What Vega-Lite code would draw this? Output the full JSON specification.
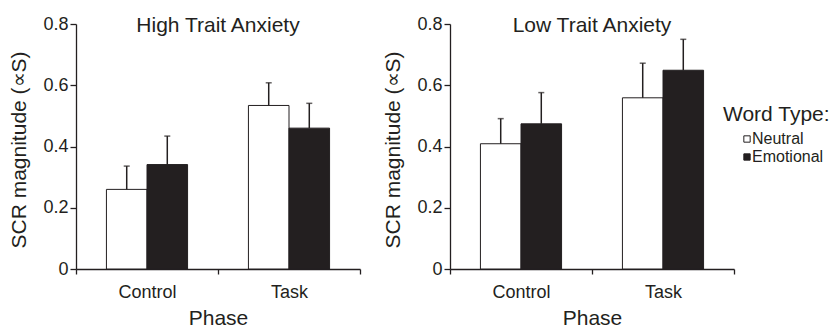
{
  "$schema": "https://vega.github.io/schema/vega-lite/v6.json",
  "padding": {"left": 8, "top": 15, "right": 0, "bottom": 0},
  "spacing": 21,
  "datasets": {
    "scr": [
      {"anxiety": "High Trait Anxiety", "phase": "Control", "word": "Neutral", "value": 0.26, "upper": 0.336},
      {"anxiety": "High Trait Anxiety", "phase": "Control", "word": "Emotional", "value": 0.341, "upper": 0.434},
      {"anxiety": "High Trait Anxiety", "phase": "Task", "word": "Neutral", "value": 0.534, "upper": 0.608},
      {"anxiety": "High Trait Anxiety", "phase": "Task", "word": "Emotional", "value": 0.46, "upper": 0.541},
      {"anxiety": "Low Trait Anxiety", "phase": "Control", "word": "Neutral", "value": 0.409, "upper": 0.491},
      {"anxiety": "Low Trait Anxiety", "phase": "Control", "word": "Emotional", "value": 0.474, "upper": 0.576},
      {"anxiety": "Low Trait Anxiety", "phase": "Task", "word": "Neutral", "value": 0.559, "upper": 0.672},
      {"anxiety": "Low Trait Anxiety", "phase": "Task", "word": "Emotional", "value": 0.649, "upper": 0.75}
    ]
  },
  "hconcat": [
    {
      "data": {"name": "scr"},
      "transform": [{"filter": "datum.anxiety === 'High Trait Anxiety'"}],
      "title": {"text": "High Trait Anxiety", "offset": -21},
      "width": 284,
      "height": 245,
      "encoding": {
        "x": {"field": "phase", "type": "nominal", "sort": ["Control", "Task"], "title": "Phase", "scale": {"paddingInner": 0, "paddingOuter": 0}},
        "xOffset": {"field": "word", "type": "nominal", "sort": ["Neutral", "Emotional"], "scale": {"paddingInner": 0, "paddingOuter": 0.75}}
      },
      "layer": [
        {
          "mark": {"type": "bar", "stroke": "#231f20", "strokeWidth": 1},
          "encoding": {
            "y": {"field": "value", "type": "quantitative", "title": "SCR magnitude (∝S)", "scale": {"domain": [0, 0.8]}, "axis": {"values": [0, 0.2, 0.4, 0.6, 0.8], "format": ".1~f"}},
            "fill": {"field": "word", "type": "nominal", "sort": ["Neutral", "Emotional"], "scale": {"domain": ["Neutral", "Emotional"], "range": ["#ffffff", "#231f20"]}, "title": "Word Type:"}
          }
        },
        {
          "mark": {"type": "rule", "color": "#231f20", "strokeWidth": 1.5},
          "encoding": {"y": {"field": "value", "type": "quantitative"}, "y2": {"field": "upper"}}
        },
        {
          "mark": {"type": "tick", "color": "#231f20", "thickness": 1.5, "size": 6},
          "encoding": {"y": {"field": "upper", "type": "quantitative"}}
        }
      ]
    },
    {
      "data": {"name": "scr"},
      "transform": [{"filter": "datum.anxiety === 'Low Trait Anxiety'"}],
      "title": {"text": "Low Trait Anxiety", "offset": -21},
      "width": 284,
      "height": 245,
      "encoding": {
        "x": {"field": "phase", "type": "nominal", "sort": ["Control", "Task"], "title": "Phase", "scale": {"paddingInner": 0, "paddingOuter": 0}},
        "xOffset": {"field": "word", "type": "nominal", "sort": ["Neutral", "Emotional"], "scale": {"paddingInner": 0, "paddingOuter": 0.75}}
      },
      "layer": [
        {
          "mark": {"type": "bar", "stroke": "#231f20", "strokeWidth": 1},
          "encoding": {
            "y": {"field": "value", "type": "quantitative", "title": "SCR magnitude (∝S)", "scale": {"domain": [0, 0.8]}, "axis": {"values": [0, 0.2, 0.4, 0.6, 0.8], "format": ".1~f"}},
            "fill": {"field": "word", "type": "nominal", "sort": ["Neutral", "Emotional"], "scale": {"domain": ["Neutral", "Emotional"], "range": ["#ffffff", "#231f20"]}, "title": "Word Type:"}
          }
        },
        {
          "mark": {"type": "rule", "color": "#231f20", "strokeWidth": 1.5},
          "encoding": {"y": {"field": "value", "type": "quantitative"}, "y2": {"field": "upper"}}
        },
        {
          "mark": {"type": "tick", "color": "#231f20", "thickness": 1.5, "size": 6},
          "encoding": {"y": {"field": "upper", "type": "quantitative"}}
        }
      ]
    }
  ],
  "config": {
    "font": "Liberation Sans",
    "view": {"stroke": null},
    "title": {"fontSize": 21, "fontWeight": "normal", "color": "#231f20", "anchor": "middle"},
    "axis": {
      "grid": false,
      "domainColor": "#231f20",
      "domainWidth": 1.3,
      "tickColor": "#231f20",
      "tickWidth": 1.3,
      "labelColor": "#231f20",
      "titleColor": "#231f20",
      "labelFontSize": 18,
      "titleFontSize": 21,
      "titleFontWeight": "normal"
    },
    "axisX": {"tickBand": "extent", "labelAngle": 0, "tickSize": 5, "labelPadding": 9, "titlePadding": 6},
    "axisY": {"tickSize": 6, "labelPadding": 2, "titlePadding": 13, "titleAlign": "left", "titleY": 224},
    "legend": {
      "orient": "none",
      "legendX": 647,
      "legendY": 80,
      "titleFontSize": 21,
      "titleFontWeight": "normal",
      "titleColor": "#231f20",
      "labelFontSize": 16,
      "labelColor": "#231f20",
      "symbolType": "square",
      "symbolSize": 40,
      "symbolStrokeColor": "#231f20",
      "symbolStrokeWidth": 1,
      "symbolOffset": 16,
      "labelOffset": -3,
      "rowPadding": 2,
      "titlePadding": 6
    }
  }
}
